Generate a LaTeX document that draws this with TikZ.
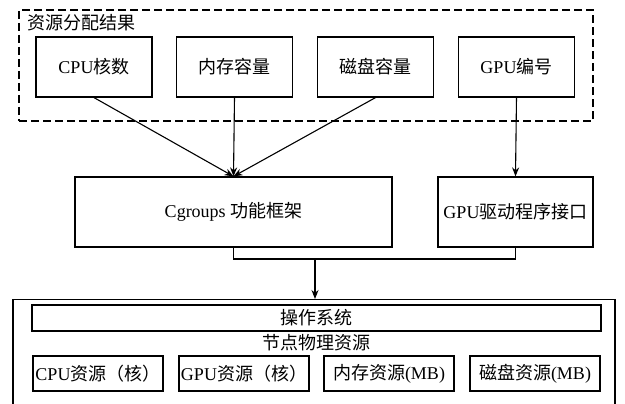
\documentclass[tikz,border=0pt]{standalone}
\usepackage{fontspec}
\setmainfont{Liberation Serif}
\newfontfamily\cjk{Noto Sans CJK SC}
\usetikzlibrary{arrows.meta}

\tikzset{
    box/.style={draw, line width=1.2pt, inner sep=0pt, font=\fontsize{18}{21}\selectfont},
    link/.style={line width=1.1pt, -{Stealth[length=9pt,width=7pt]}},
}

\begin{document}
\begin{tikzpicture}[x=1pt,y=-1pt]
    \useasboundingbox (0,0) rectangle (625,404);
    % 资源分配结果
    \node[draw, line width=2pt, dash pattern=on 8pt off 4pt, minimum width=574pt, minimum height=111pt] (alloc) at (306,65.5) {};
    \node[anchor=west, inner sep=0pt, font=\fontsize{18}{21}\selectfont] (alloctitle) at (27,23) {\cjk 资源分配结果};
    \foreach \n/\x/\t in {cpu/94/CPU{\cjk 核数}, mem/234.5/{\cjk 内存容量}, disk/375.5/{\cjk 磁盘容量}, gpu/516.5/GPU{\cjk 编号}} {
        \node[box, minimum width=116pt, minimum height=60pt] (\n) at (\x,67) {\t};
    }
    % 中间层
    \node[box, minimum width=317pt, minimum height=70pt] (cg) at (233.5,212) {Cgroups {\cjk 功能框架}};
    \node[box, minimum width=155pt, minimum height=70pt] (gpuif) at (515.5,212) {GPU{\cjk 驱动程序接口}};
    % 节点
    \node[box, anchor=north, minimum width=602pt, minimum height=140pt] (host) at (314,299) {};
    \node[box, minimum width=569pt, minimum height=26pt] (os) at (316.5,318) {\cjk 操作系统};
    \node[inner sep=0pt, font=\fontsize{18}{21}\selectfont] (phys) at (316,343) {\cjk 节点物理资源};
    \foreach \n/\x/\t in {rcpu/98/CPU{\cjk 资源（核）}, rgpu/244/GPU{\cjk 资源（核）}, rmem/389/{\cjk 内存资源}(MB), rdisk/535/{\cjk 磁盘资源}(MB)} {
        \node[box, minimum width=130pt, minimum height=35pt] (\n) at (\x,373.5) {\t};
    }
    % 连线
    \draw[link] (cpu.south) -- (cg.north);
    \draw[link] (mem.south) -- (cg.north);
    \draw[link] (disk.south) -- (cg.north);
    \draw[link] (gpu.south) -- (gpuif.north);
    \coordinate (join) at (315,259);
    \draw[line width=1.2pt] (cg.south) |- (join) -| (gpuif.south);
    \draw[link] (join) -- (join |- host.north);
\end{tikzpicture}
\end{document}
